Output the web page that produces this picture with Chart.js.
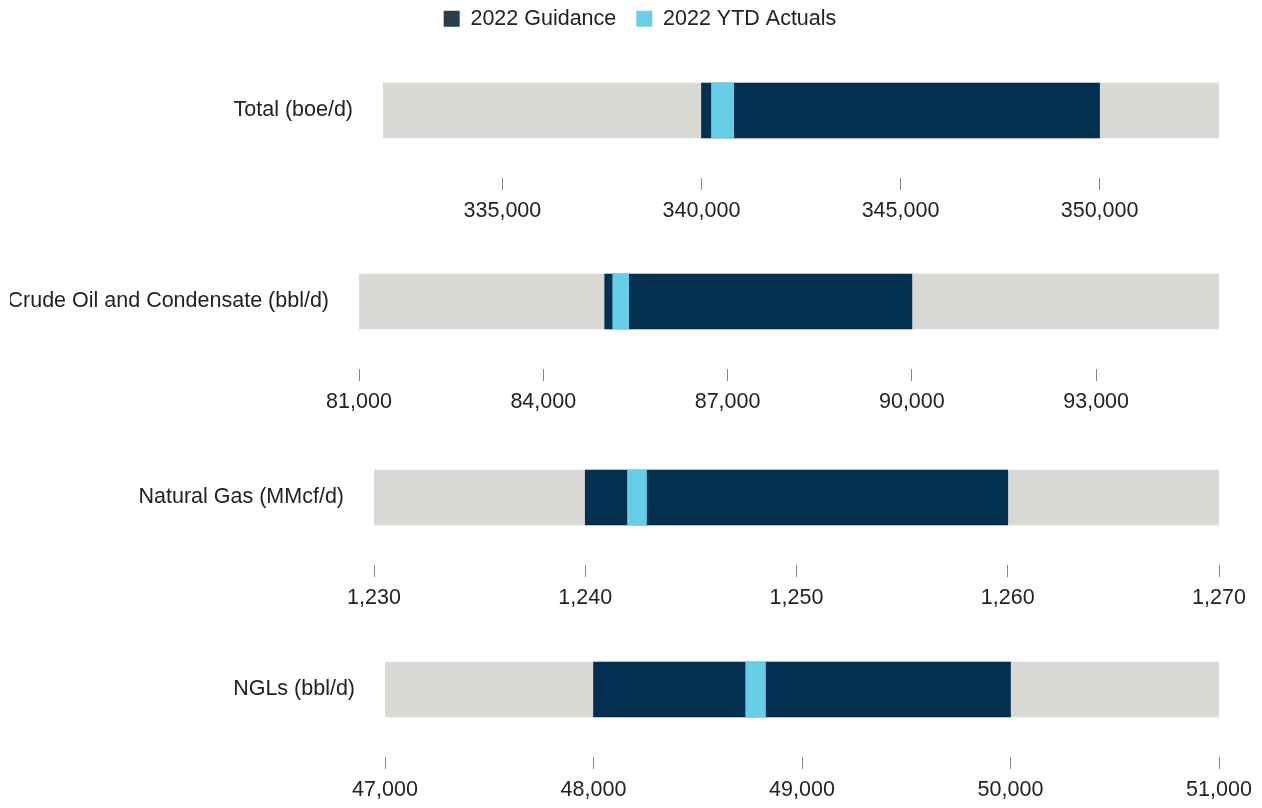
<!DOCTYPE html>
<html><head><meta charset="utf-8">
<script src="https://cdn.jsdelivr.net/npm/chart.js@4.4.1/dist/chart.umd.min.js"></script>
<style>
html,body{margin:0;padding:0;background:#fff;width:1262px;height:808px;overflow:hidden;position:relative}
.box{position:absolute}
</style></head><body>
<div class="box" id="lgbox" style="left:9px;width:1262px;top:-12px;height:130px"><canvas id="c0"></canvas></div>
<div id="rows"></div>
<script>
// ---- data ----
const categories = ['Total (boe/d)', 'Crude Oil and Condensate (bbl/d)', 'Natural Gas (MMcf/d)', 'NGLs (bbl/d)'];
const seriesNames = ['2022 Guidance', '2022 YTD Actuals'];
const guidanceLow  = [340000, 85000, 1240, 48000];
const guidanceHigh = [350000, 90000, 1260, 50000];
const actualLow    = [340250, 85130, 1242.0, 48730];
const actualHigh   = [340810, 85390, 1242.9, 48825];
const axisMin  = [332000, 81000, 1230, 47000];
const axisMax  = [353000, 95000, 1270, 51000];
const totalTicks = [335000, 340000, 345000, 350000];
const crudeTicks = [81000, 84000, 87000, 90000, 93000];
const gasTicks   = [1230, 1240, 1250, 1260, 1270];
const nglTicks   = [47000, 48000, 49000, 50000, 51000];
const tickValues = [totalTicks, crudeTicks, gasTicks, nglTicks];

// ---- layout / style ----
const rowTops   = [43, 234, 430, 622];
const plotLefts = [383, 359, 374, 385];
const CANVAS_LEFT = 10;
const FONT = {family: "'Liberation Sans', Arial, sans-serif", size: 21.5};
const GRAY = '#d9d8d5', DARK = '#03304f', LIGHT = '#67cde7';
const TEXT = '#222222';

// legend
new Chart(document.getElementById('c0'), {
  type: 'bar',
  data: {labels: [], datasets: [
    {label: seriesNames[0], data: [], backgroundColor: '#253f4f', borderWidth: 0},
    {label: seriesNames[1], data: [], backgroundColor: '#6bcde6', borderWidth: 0}
  ]},
  options: {
    responsive: true, maintainAspectRatio: false, animation: false,
    layout: {padding: 0},
    scales: {x: {display: false}, y: {display: false}},
    plugins: {
      tooltip: {enabled: false},
      legend: {display: true, position: 'top', align: 'center',
        labels: {boxWidth: 16, boxHeight: 16, padding: 20, color: TEXT, font: FONT}}
    }
  }
});

const rowsEl = document.getElementById('rows');
categories.forEach((cat, i) => {
  const div = document.createElement('div');
  div.className = 'box';
  div.style.left = CANVAS_LEFT + 'px';
  div.style.width = (1262 - CANVAS_LEFT) + 'px';
  div.style.top = rowTops[i] + 'px';
  div.style.height = '185px';
  const cv = document.createElement('canvas');
  div.appendChild(cv);
  rowsEl.appendChild(div);
  new Chart(cv, {
    type: 'bar',
    data: {
      labels: [cat],
      datasets: [
        {label: 'range', data: [[axisMin[i], axisMax[i]]], backgroundColor: GRAY, order: 3},
        {label: seriesNames[0], data: [[guidanceLow[i], guidanceHigh[i]]], backgroundColor: DARK, order: 2},
        {label: seriesNames[1], data: [[actualLow[i], actualHigh[i]]], backgroundColor: LIGHT, order: 1}
      ]
    },
    options: {
      indexAxis: 'y', responsive: true, maintainAspectRatio: false, animation: false,
      datasets: {bar: {grouped: false, barThickness: 55, borderWidth: 0, borderSkipped: false}},
      layout: {padding: {top: 0, bottom: 0, left: 0, right: 43}},
      plugins: {legend: {display: false}, tooltip: {enabled: false}},
      scales: {
        x: {
          type: 'linear', position: 'bottom', min: axisMin[i], max: axisMax[i],
          grid: {display: true, drawOnChartArea: false, drawTicks: true, tickLength: 12, color: '#8a8a8a', lineWidth: 1},
          border: {display: false},
          ticks: {padding: 8, color: TEXT, font: FONT, maxRotation: 0, autoSkip: false,
                  callback: v => Number(v).toLocaleString('en-US')},
          afterBuildTicks: s => { s.ticks = tickValues[i].map(v => ({value: v})); },
          afterFit: s => { s.height = 50; s.paddingLeft = 0; }
        },
        y: {
          type: 'category',
          grid: {display: false, drawTicks: false}, border: {display: false},
          ticks: {padding: 30, color: TEXT, font: FONT},
          afterFit: s => { s.width = plotLefts[i] - CANVAS_LEFT; s.paddingTop = 0; s.paddingBottom = 0; }
        }
      }
    }
  });
});
</script>
</body></html>
